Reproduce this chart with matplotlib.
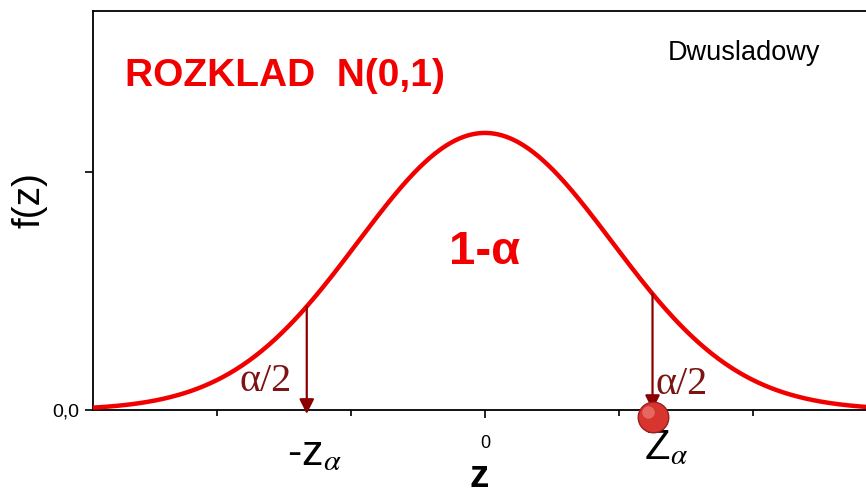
import numpy as np
import matplotlib
matplotlib.use('Agg')
import matplotlib.pyplot as plt

plt.rcParams['font.family'] = ['Liberation Sans', 'DejaVu Sans']
plt.rcParams['mathtext.fontset'] = 'stix'

# curve and markers
sigma = 0.948
z_left = -1.33
z_right = 1.25
x_ticks_major = [0]
x_ticks_minor = [-2, -1, 1, 2]
y_ticks = [0.0, 0.3615]
y_tick_labels = ['0,0', '']

def pdf(x):
    return np.exp(-0.5 * (x / sigma) ** 2) / (sigma * np.sqrt(2 * np.pi))

fig = plt.figure(figsize=(8.66, 4.99), dpi=100)
ax = fig.add_axes([93/866, 89/499, 773/866, 399/499])

xmin, xmax = -2.925, 2.843
z = np.linspace(xmin, xmax, 600)
ax.plot(z, pdf(z), color='#f20000', lw=3.2, solid_capstyle='round', zorder=3)

ax.set_xlim(xmin, xmax)
ax.set_ylim(0, 0.606)

for s in ['left', 'top', 'bottom']:
    ax.spines[s].set_linewidth(1.3)
ax.spines['right'].set_visible(False)

ax.set_xticks(x_ticks_major)
ax.set_xticklabels(['0'], fontsize=13)
ax.set_xticks(x_ticks_minor, minor=True)
ax.set_yticks(y_ticks)
ax.set_yticklabels(y_tick_labels, fontsize=14)
ax.tick_params(axis='both', which='major', direction='out', length=6, width=1.2, pad=12)
ax.tick_params(axis='x', which='minor', direction='out', length=4, width=1.2)
ax.tick_params(axis='y', which='major', pad=4)

ax.set_xlabel('z', fontsize=28, fontweight='bold', labelpad=5)
fig.text(30/866, 1 - 200/499, 'f(z)', fontsize=28, rotation=90,
         ha='center', va='center')

# arrows from curve to axis
arr = dict(arrowstyle='-|>', color='#8b0000', lw=1.6, mutation_scale=22,
           shrinkA=0, shrinkB=0)
ax.annotate('', xy=(z_left, -0.006), xytext=(z_left, pdf(z_left)),
            arrowprops=arr, annotation_clip=False, zorder=4)
ax.annotate('', xy=(z_right, 0.0), xytext=(z_right, pdf(z_right)),
            arrowprops=arr, annotation_clip=False, zorder=4)

# sphere at z_alpha
ax.plot([z_right], [-0.01], 'o', ms=22, mfc='#d8352f', mec='#9c1f1f', mew=1,
        clip_on=False, zorder=6)
ax.plot([z_right - 0.03], [-0.003], 'o', ms=9, mfc='#ee8a82', mec='none',
        alpha=0.6, clip_on=False, zorder=7)

# texts
ax.text(0.041, 0.837, 'ROZKLAD  N(0,1)', transform=ax.transAxes, color='#f20000',
        fontsize=28, fontweight='bold', ha='left', va='center')
ax.text(0.744, 0.895, 'Dwusladowy', transform=ax.transAxes, color='black',
        fontsize=19.5, ha='left', va='center')
ax.text(0.0, 0.395, '1-α', transform=ax.get_xaxis_transform(), color='#f20000',
        fontsize=34, fontweight='bold', ha='center', va='center')

ax.text(-1.83, 0.043, 'α/2', color='#7d1414', fontsize=29,
        family=['Liberation Serif', 'DejaVu Serif'], ha='left', va='center')
ax.text(1.27, 0.038, 'α/2', color='#7d1414', fontsize=29,
        family=['Liberation Serif', 'DejaVu Serif'], ha='left', va='center')

ax.text(-1.27, -0.11, '-z$_{\\alpha}$', transform=ax.get_xaxis_transform(),
        fontsize=31, ha='center', va='center', clip_on=False)
ax.text(1.35, -0.095, 'Z$_{\\alpha}$', transform=ax.get_xaxis_transform(),
        fontsize=30, ha='center', va='center', clip_on=False)

fig.savefig('out.png', dpi=100)
